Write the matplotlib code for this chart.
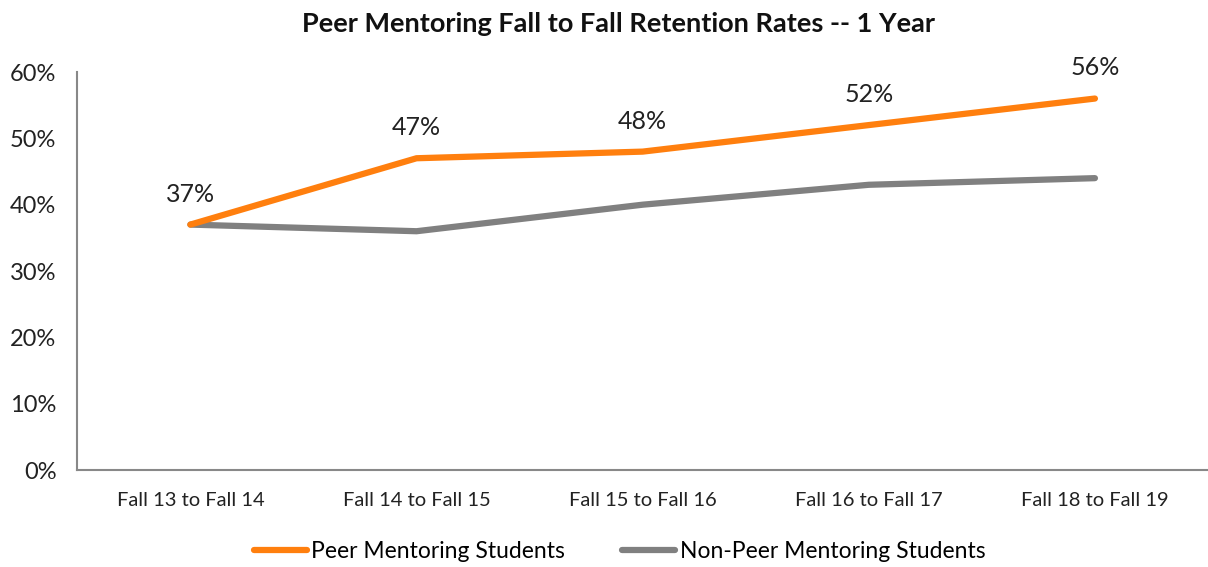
import matplotlib
matplotlib.use("Agg")
import matplotlib.pyplot as plt
from matplotlib.ticker import PercentFormatter

categories = ["Fall 13 to Fall 14", "Fall 14 to Fall 15", "Fall 15 to Fall 16",
              "Fall 16 to Fall 17", "Fall 18 to Fall 19"]
peer = [37, 47, 48, 52, 56]
non_peer = [37, 36, 40, 43, 44]
title = "Peer Mentoring Fall to Fall Retention Rates -- 1 Year"

plt.rcParams['font.family'] = ['Lato', 'DejaVu Sans']

fig = plt.figure(figsize=(12.08, 5.67), dpi=100)
ax = fig.add_axes([0.064, 0.171, 0.936, 0.702])

x = list(range(len(categories)))
ax.plot(x, peer, color="#FF7F0E", lw=4.5, solid_capstyle="round", label="Peer Mentoring Students", zorder=3)
ax.plot(x, non_peer, color="#808080", lw=4.5, solid_capstyle="round", label="Non-Peer Mentoring Students", zorder=2)

for xi, v in zip(x, peer):
    ax.annotate(f"{v}%", (xi, v), xytext=(0, 22), textcoords="offset points",
                ha="center", va="center", fontsize=18, color="#222222")

ax.set_xlim(-0.5, len(categories) - 0.5)
ax.set_ylim(0, 60)
ax.set_yticks(range(0, 61, 10))
ax.yaxis.set_major_formatter(PercentFormatter(decimals=0))
ax.set_xticks(x)
ax.set_xticklabels(categories)
ax.tick_params(axis="y", length=0, pad=15, labelsize=17, labelcolor="#222222")
ax.tick_params(axis="x", length=0, pad=16, labelsize=14.5, labelcolor="#222222")
for s in ["top", "right"]:
    ax.spines[s].set_visible(False)
for s in ["left", "bottom"]:
    ax.spines[s].set_color("#888888")
    ax.spines[s].set_linewidth(1.5)

fig.text(0.512, 0.958, title, ha="center", va="center", fontsize=19.5, fontweight="bold", color="#111111")

fig.legend(loc="center", bbox_to_anchor=(0.513, 0.028), ncol=2, frameon=False,
           fontsize=16.5, handlelength=2.3, columnspacing=2.5, handletextpad=0.2)

fig.savefig("out.png", dpi=100, facecolor="white")
